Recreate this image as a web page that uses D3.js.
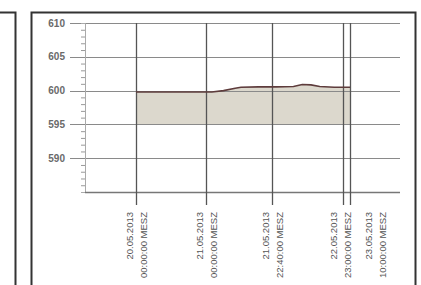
<!DOCTYPE html>
<meta charset="utf-8">
<script src="https://d3js.org/d3.v7.min.js"></script>
<style>
  body { margin: 0; background: #fff; }
  text { font-family: "Liberation Sans", Arial, sans-serif; }
</style>
<div id="my_dataviz"></div>
<script>

// data
let times = ["2013-05-20 00:00", "2013-05-20 12:00", "2013-05-21 02:00", "2013-05-21 06:00",
             "2013-05-21 10:00", "2013-05-21 12:00", "2013-05-21 18:00", "2013-05-22 00:00",
             "2013-05-22 06:00", "2013-05-22 09:00", "2013-05-22 12:00", "2013-05-22 15:00",
             "2013-05-22 20:00", "2013-05-23 01:25"];
let values = [599.8, 599.8, 599.8, 600.0, 600.35, 600.5, 600.55, 600.55,
              600.6, 600.9, 600.85, 600.6, 600.5, 600.5];
let areaBase = 595;

let gridTimes = ["2013-05-20 00:00", "2013-05-21 00:00", "2013-05-21 22:40", "2013-05-22 23:00", "2013-05-23 01:25"];
let labelTimes = ["2013-05-20 00:00", "2013-05-21 00:00", "2013-05-21 22:40", "2013-05-22 22:00", "2013-05-23 10:00"];
let labelDates = ["20.05.2013", "21.05.2013", "21.05.2013", "22.05.2013", "23.05.2013"];
let labelHours = ["00:00:00 MESZ", "00:00:00 MESZ", "22:40:00 MESZ", "23:00:00 MESZ", "10:00:00 MESZ"];
let yTicks = [590, 595, 600, 605, 610];

let W = 421, H = 285;
let plot = {left: 85, right: 400, top: 23, bottom: 192};

let parse = d3.timeParse("%Y-%m-%d %H:%M");

let svg = d3.select("#my_dataviz")
  .append("svg")
    .attr("width", W)
    .attr("height", H);

let x = d3.scaleTime()
    .domain([parse("2013-05-19 06:51"), parse("2013-05-23 18:31")])
    .range([plot.left + 1, plot.right]);

let y = d3.scaleLinear()
    .domain([585, 610])
    .range([plot.bottom, plot.top]);

// panel frames
svg.append("path")
    .attr("d", "M-5,12.5H15.5V" + (H + 5))
    .attr("fill", "none").attr("stroke", "#333").attr("stroke-width", 2);
svg.append("rect")
    .attr("x", 31.5).attr("y", 12.5)
    .attr("width", 384).attr("height", H)
    .attr("fill", "none").attr("stroke", "#333").attr("stroke-width", 2);

// area and line
let data = times.map(function(t, i) { return {t: parse(t), v: values[i]}; });

svg.append("path")
    .datum(data)
    .attr("fill", "#dcd8cd")
    .attr("d", d3.area()
      .x(function(d) { return x(d.t); })
      .y0(y(areaBase))
      .y1(function(d) { return y(d.v); }));

// horizontal grid
svg.selectAll(".hgrid")
  .data(yTicks)
  .enter()
  .append("line")
    .attr("x1", 70).attr("x2", plot.right)
    .attr("y1", function(d) { return Math.round(y(d)) + 0.5; })
    .attr("y2", function(d) { return Math.round(y(d)) + 0.5; })
    .attr("stroke", "#8a8a8a")
    .attr("stroke-width", 1);

// y axis with minor ticks
let minor = d3.range(586, 610, 1).filter(function(d) { return d % 5 != 0; });
svg.append("g")
    .attr("transform", "translate(" + plot.left + ",0)")
    .call(d3.axisLeft(y).tickValues(minor).tickSize(4).tickFormat(""))
    .call(function(g) {
      g.select(".domain").attr("stroke", "#aaa");
      g.selectAll(".tick line").attr("stroke", "#999");
    });

svg.selectAll(".ylab")
  .data(yTicks)
  .enter()
  .append("text")
    .attr("x", 65)
    .attr("y", function(d) { return y(d) + 3.5; })
    .attr("text-anchor", "end")
    .attr("font-size", 10)
    .attr("font-weight", "bold")
    .attr("fill", "#6a6a6a")
    .text(function(d) { return d; });

// bottom line
svg.append("line")
    .attr("x1", plot.left).attr("x2", plot.right)
    .attr("y1", plot.bottom + 0.5).attr("y2", plot.bottom + 0.5)
    .attr("stroke", "#777").attr("stroke-width", 1.5);

// vertical grid
svg.selectAll(".vgrid")
  .data(gridTimes)
  .enter()
  .append("line")
    .attr("x1", function(d) { return Math.round(x(parse(d))) + 0.5; })
    .attr("x2", function(d) { return Math.round(x(parse(d))) + 0.5; })
    .attr("y1", plot.top).attr("y2", 205)
    .attr("stroke", "#555")
    .attr("stroke-width", 1.3);

svg.append("path")
    .datum(data)
    .attr("fill", "none")
    .attr("stroke", "#5e3c3c")
    .attr("stroke-width", 1.6)
    .attr("d", d3.line()
      .x(function(d) { return x(d.t); })
      .y(function(d) { return y(d.v); }));

// rotated x labels
let lab = svg.selectAll(".xlab")
  .data(labelTimes)
  .enter()
  .append("text")
    .attr("transform", function(d) { return "translate(" + x(parse(d)) + ",212) rotate(-90)"; })
    .attr("text-anchor", "end")
    .attr("font-size", 9.5)
    .attr("fill", "#555");

lab.append("tspan")
    .attr("x", 0).attr("y", -3)
    .text(function(d, i) { return labelDates[i]; });
lab.append("tspan")
    .attr("x", 0).attr("y", 11)
    .text(function(d, i) { return labelHours[i]; });

</script>
